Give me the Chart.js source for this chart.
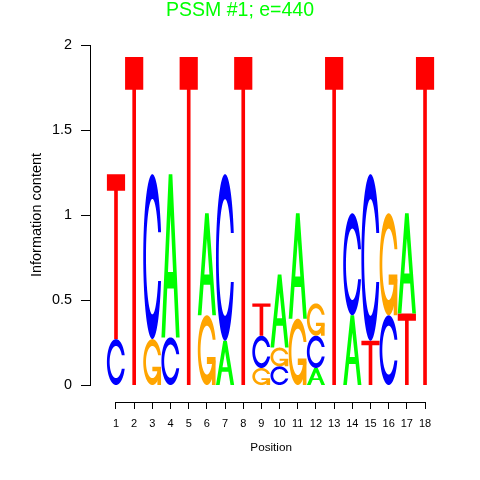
<!DOCTYPE html>
<html>
<head>
<meta charset="utf-8">
<script src="https://cdn.jsdelivr.net/npm/chart.js@4.4.1/dist/chart.umd.min.js"></script>
<style>
  html, body { margin: 0; padding: 0; background: #fff; }
  #logo { display: block; }
</style>
</head>
<body>
<canvas id="logo" width="480" height="480"></canvas>
<script>
// Motif positions
const positions = [1, 2, 3, 4, 5, 6, 7, 8, 9, 10, 11, 12, 13, 14, 15, 16, 17, 18];
// Information content (bits) carried by each base at each position
const heightA = [0, 0, 0, 0.96, 0, 0.60, 0.26, 0, 0, 0.43, 0.62, 0.10, 0, 0.41, 0, 0, 0.59, 0];
const heightC = [0.27, 0, 0.97, 0.28, 0, 0, 0.98, 0, 0.19, 0.11, 0, 0.19, 0, 0.60, 0.98, 0.41, 0, 0];
const heightG = [0, 0, 0.27, 0, 0, 0.41, 0, 0, 0.10, 0.11, 0.39, 0.19, 0, 0, 0, 0.60, 0, 0];
const heightT = [0.97, 1.93, 0, 0, 1.93, 0, 0, 1.93, 0.19, 0, 0, 0, 1.93, 0, 0.26, 0, 0.42, 1.93];
const yTicks = [0, 0.5, 1, 1.5, 2];
const mainTitle = 'PSSM #1; e=440';

const heights = { A: heightA, C: heightC, G: heightG, T: heightT };
const baseColors = { A: '#00FF00', C: '#0000FF', G: '#FFA500', T: '#FF0000' };
const fontFamily = '"Liberation Sans", Arial, Helvetica, sans-serif';

Chart.defaults.font.family = fontFamily;

// letter outlines in a unit box (x right, y up), same shapes as seqLogo
function seq(a, b, n) {
  const out = [];
  for (let i = 0; i < n; i++) out.push(a + (b - a) * i / (n - 1));
  return out;
}

function ringPath() {
  const a1 = seq(0.3 + Math.PI / 2, Math.PI, 100);
  const a2 = seq(Math.PI, 1.5 * Math.PI, 100);
  const all = a1.concat(a2);
  const xl = all.map(a => 0.5 + 0.5 * Math.sin(a));
  const yl = all.map(a => 0.5 + 0.5 * Math.cos(a));
  const hMax = Math.max(...a1.map(a => 0.5 + 0.5 * Math.cos(a)));
  let xi1 = a1.map(a => 0.5 + 0.35 * Math.sin(a));
  let yi1 = a1.map(a => 0.5 + 0.35 * Math.cos(a));
  const keep = yi1.map(v => v <= hMax);
  xi1 = xi1.filter((_, k) => keep[k]);
  yi1 = yi1.filter((_, k) => keep[k]);
  yi1[0] = hMax;
  const xi = xi1.concat(a2.map(a => 0.5 + 0.35 * Math.sin(a)));
  const yi = yi1.concat(a2.map(a => 0.5 + 0.35 * Math.cos(a)));
  const x = xl.concat(xl.slice().reverse());
  const y = yl.concat(yl.slice().reverse().map(v => 1 - v));
  const x1 = xi.concat(xi.slice().reverse());
  const y1 = yi.concat(yi.slice().reverse().map(v => 1 - v));
  const px = x.concat(x1.slice().reverse());
  const py = y.concat(y1.slice().reverse());
  return { pts: px.map((v, k) => [v, py[k]]), r1: Math.max(...a1.map(a => 0.5 + 0.5 * Math.sin(a))) };
}

const ring = ringPath();
const glyphs = {
  A: { parts: [[[0, 0], [0.4, 1], [0.6, 1], [1, 0], [0.8, 0], [0.68, 0.3], [0.32, 0.3], [0.2, 0]],
                [[0.36, 0.4], [0.5, 0.75], [0.64, 0.4]]], evenodd: true },
  C: { parts: [ring.pts] },
  G: { parts: [ring.pts, [[ring.r1, 0.4], [0.5, 0.4], [0.5, 0.3], [ring.r1 - 0.2, 0.3], [ring.r1 - 0.2, 0], [ring.r1, 0]]] },
  T: { parts: [[[0, 1], [1, 1], [1, 0.9], [0.6, 0.9], [0.6, 0], [0.4, 0], [0.4, 0.9], [0, 0.9]]] }
};

function drawGlyph(ctx, base, left, right, bottom, top) {
  const g = glyphs[base];
  const w = right - left, h = bottom - top;
  ctx.fillStyle = baseColors[base];
  const trace = part => {
    part.forEach((p, k) => {
      const px = left + p[0] * w, py = bottom - p[1] * h;
      if (k === 0) ctx.moveTo(px, py); else ctx.lineTo(px, py);
    });
    ctx.closePath();
  };
  if (g.evenodd) {
    ctx.beginPath();
    g.parts.forEach(trace);
    ctx.fill('evenodd');
  } else {
    g.parts.forEach(part => {
      ctx.beginPath();
      trace(part);
      ctx.fill();
    });
  }
}

const logoLetters = {
  id: 'logoLetters',
  afterDraw(chart) {
    const { ctx, scales: { x, y } } = chart;
    ctx.save();
    // main title, centred on the page like the original device
    ctx.font = '19.5px ' + fontFamily;
    ctx.fillStyle = '#00FF00';
    ctx.textAlign = 'center';
    ctx.textBaseline = 'alphabetic';
    ctx.fillText(mainTitle, chart.width / 2, 15.5);

    // x axis line only between first and last position
    const axisY = Math.round(y.getPixelForValue(-0.1)) + 0.5;
    ctx.strokeStyle = '#000';
    ctx.lineWidth = 1;
    ctx.beginPath();
    ctx.moveTo(x.getPixelForValue(positions[0]), axisY);
    ctx.lineTo(x.getPixelForValue(positions[positions.length - 1]), axisY);
    ctx.stroke();

    positions.forEach((p, i) => {
      const stack = ['A', 'C', 'G', 'T']
        .map(b => ({ b: b, h: heights[b][i] }))
        .filter(s => s.h > 0)
        .sort((a, b) => a.h - b.h);
      const left = x.getPixelForValue(p - 0.5);
      const right = x.getPixelForValue(p + 0.5);
      let level = 0;
      stack.forEach(s => {
        drawGlyph(ctx, s.b, left, right, y.getPixelForValue(level), y.getPixelForValue(level + s.h));
        level += s.h;
      });
    });
    ctx.restore();
  }
};

new Chart(document.getElementById('logo'), {
  type: 'scatter',
  data: { datasets: [] },
  options: {
    responsive: false,
    animation: false,
    devicePixelRatio: 1,
    layout: { padding: { left: 0, top: 45, right: 27.7, bottom: 95 } },
    plugins: {
      legend: { display: false },
      tooltip: { enabled: false },
      title: { display: false }
    },
    scales: {
      x: {
        type: 'linear',
        position: { y: -0.1 },
        min: -0.43,
        max: 19.5,
        afterBuildTicks: s => { s.ticks = positions.map(v => ({ value: v })); },
        grid: { drawOnChartArea: false, drawTicks: true, tickLength: 7, color: '#000' },
        border: { display: false },
        ticks: { color: '#000', font: { size: 11 }, padding: 8, maxRotation: 0, autoSkip: false, callback: v => String(v) },
        title: { display: true, text: 'Position', color: '#000', font: { size: 11.7 }, padding: { top: 3, bottom: 0 } }
      },
      y: {
        type: 'linear',
        position: 'left',
        min: 0,
        max: 2,
        afterBuildTicks: s => { s.ticks = yTicks.map(v => ({ value: v })); },
        afterFit: s => { s.width = 90; },
        grid: { drawOnChartArea: false, drawTicks: true, tickLength: 9, color: '#000' },
        border: { display: true, color: '#000' },
        ticks: { color: '#000', font: { size: 14.4 }, padding: 9, callback: v => String(v) },
        title: { display: true, text: 'Information content', color: '#000', font: { size: 14.5 }, padding: { top: 28, bottom: 0 } }
      }
    }
  },
  plugins: [logoLetters]
});
</script>
</body>
</html>
